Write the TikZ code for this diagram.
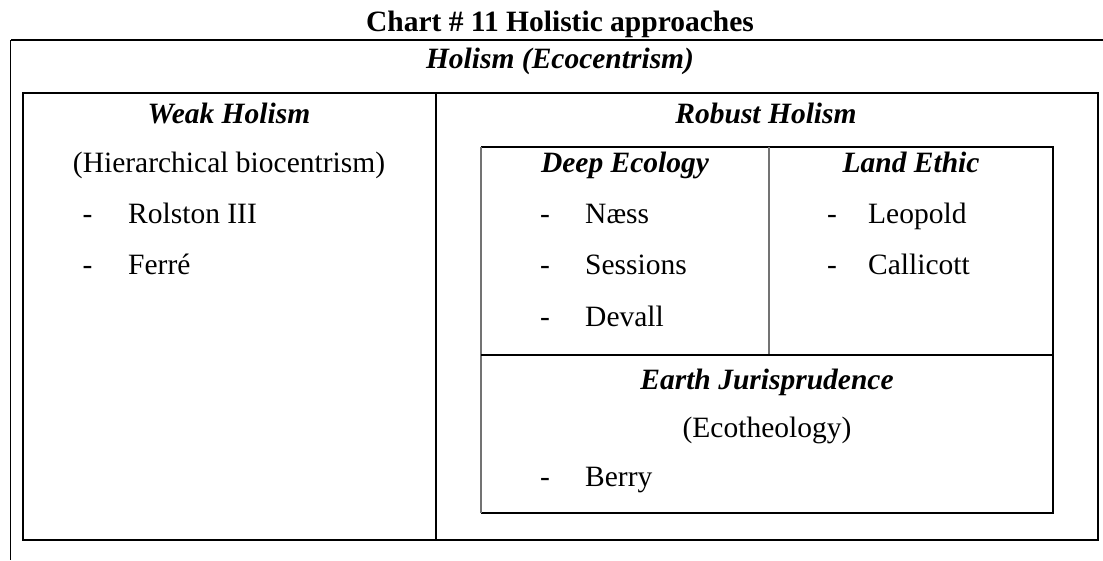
\documentclass[tikz,border=0pt]{standalone}
\usepackage{fontspec}
\setmainfont{Liberation Serif}
\begin{document}
\begin{tikzpicture}[x=1pt,y=-1pt,
  txt/.style={inner sep=0pt,font=\fontsize{29.5}{35}\selectfont},
  hdr/.style={txt,font=\fontsize{29.5}{35}\selectfont\bfseries\itshape},
  ttl/.style={txt,font=\fontsize{29.5}{35}\selectfont\bfseries},
  frame/.style={line width=2.2pt,black},
  rule/.style={line width=1.4pt,black},
  softrule/.style={line width=1.3pt,black!55}]
\useasboundingbox (0,0) rectangle (1103,560);

% outer frame (open at right and bottom)
\coordinate (otl) at (10.5,40);
\coordinate (otr) at (1103,40);
\coordinate (obl) at (10.5,560);
\draw[line width=1.3pt] (otr) -- (otl);
\draw[line width=1pt] (otl) -- (obl);

% table frame
\coordinate (tnw) at (23,93);
\coordinate (tse) at (1098,540);
\draw[frame] (tnw) rectangle (tse);
\coordinate (dtop) at (435.5,93);
\coordinate (dbot) at (435.5,540);
\draw[line width=2pt] (dtop) -- (dbot);

% inner box of robust holism
\coordinate (inw) at (481,147);
\coordinate (ine) at (1053,147);
\coordinate (ise) at (1053,513);
\coordinate (isw) at (481,513);
\draw[line width=2pt] (inw) -- (ine) -- (ise) -- (isw);
\draw[softrule] (isw) -- (inw);
\coordinate (vtop) at (769,147);
\coordinate (vbot) at (769,355);
\draw[softrule] (vtop) -- (vbot);
\coordinate (hl) at (481,355);
\coordinate (hr) at (1053,355);
\draw[rule] (hl) -- (hr);

% texts
\node[ttl,anchor=base] (title) at (560,31) {Chart \# 11 Holistic approaches};
\node[hdr,anchor=base] (holism) at (560,68) {Holism (Ecocentrism)};
\node[hdr,anchor=base] (weak) at (229,123) {Weak Holism};
\node[hdr,anchor=base] (robust) at (766,123) {Robust Holism};

\node[txt,anchor=base] (hier) at (229,172) {(Hierarchical biocentrism)};
\node[txt,anchor=base] (d1) at (87.5,223) {-};
\node[txt,anchor=base west] (rolston) at (128,223) {Rolston III};
\node[txt,anchor=base] (d2) at (87.5,274) {-};
\node[txt,anchor=base west] (ferre) at (128,274) {Ferré};

\node[hdr,anchor=base] (deep) at (625,172) {Deep Ecology};
\node[txt,anchor=base] (d3) at (545,223) {-};
\node[txt,anchor=base west] (naess) at (585,223) {Næss};
\node[txt,anchor=base] (d4) at (545,274) {-};
\node[txt,anchor=base west] (sessions) at (585,274) {Sessions};
\node[txt,anchor=base] (d5) at (545,326) {-};
\node[txt,anchor=base west] (devall) at (585,326) {Devall};

\node[hdr,anchor=base] (land) at (911,172) {Land Ethic};
\node[txt,anchor=base] (d6) at (832,223) {-};
\node[txt,anchor=base west] (leopold) at (868,223) {Leopold};
\node[txt,anchor=base] (d7) at (832,274) {-};
\node[txt,anchor=base west] (callicott) at (868,274) {Callicott};

\node[hdr,anchor=base] (earth) at (767,389) {Earth Jurisprudence};
\node[txt,anchor=base] (ecoth) at (767,437) {(Ecotheology)};
\node[txt,anchor=base] (d8) at (545,486) {-};
\node[txt,anchor=base west] (berry) at (585,486) {Berry};
\end{tikzpicture}
\end{document}
